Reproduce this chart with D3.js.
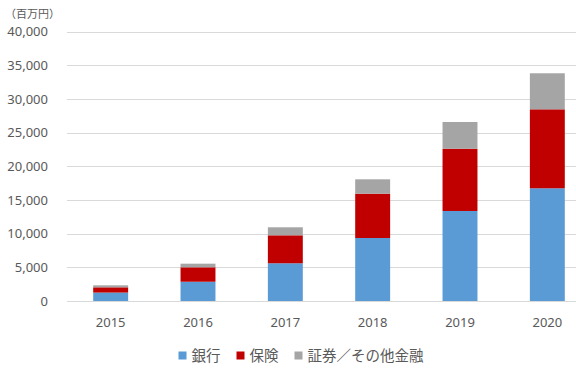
<!DOCTYPE html>
<html>
<head>
<meta charset="utf-8">
<script src="https://cdn.jsdelivr.net/npm/d3@7"></script>
<style>
  body { margin: 0; background: #fff; }
  text { font-family: "Noto Sans", "Noto Sans CJK JP", sans-serif; fill: #595959; }
</style>
</head>
<body>
<svg id="chart" width="576" height="370"></svg>
<script>
// data (百万円)
var years = ["2015", "2016", "2017", "2018", "2019", "2020"];
var bank = [1250, 2860, 5600, 9350, 13360, 16730];
var insurance = [780, 2140, 4150, 6580, 9240, 11720];
var securities = [300, 540, 1190, 2130, 3970, 5350];
var seriesNames = ["銀行", "保険", "証券／その他金融"];
var yTicks = [0, 5000, 10000, 15000, 20000, 25000, 30000, 35000, 40000];

var colors = ["#5B9BD5", "#C00000", "#A5A5A5"];

var svg = d3.select("#chart");

// plot area
var plotLeft = 67, plotRight = 591, plotTop = 31.5, plotBottom = 301;

var x = d3.scaleBand()
    .domain(years)
    .range([plotLeft, plotRight])
    .paddingInner(0.6)
    .paddingOuter(0.3);

var y = d3.scaleLinear()
    .domain([0, 40000])
    .range([plotBottom, plotTop]);

// build stack table
var rows = years.map(function(yr, i) {
    return { year: yr, bank: bank[i], insurance: insurance[i], securities: securities[i] };
});
var stack = d3.stack().keys(["bank", "insurance", "securities"]);
var layers = stack(rows);

// gridlines
svg.append("g")
    .selectAll("line")
    .data(yTicks)
    .enter()
    .append("line")
    .attr("x1", plotLeft)
    .attr("x2", 576)
    .attr("y1", function(d) { return Math.round(y(d)) + 0.5; })
    .attr("y2", function(d) { return Math.round(y(d)) + 0.5; })
    .attr("stroke", "#D9D9D9")
    .attr("stroke-width", 1);

// y axis labels
var yAxis = d3.axisLeft(y)
    .tickValues(yTicks)
    .tickSize(0)
    .tickPadding(0)
    .tickFormat(d3.format(","));

svg.append("g")
    .attr("transform", "translate(48,0)")
    .call(yAxis)
    .call(function(g) { g.select(".domain").remove(); })
    .selectAll("text")
    .attr("font-size", "13px")
    .attr("font-family", null)
    .attr("fill", "#595959");

// unit label
svg.append("text")
    .attr("x", 5)
    .attr("y", 18)
    .attr("font-size", "11px")
    .text("（百万円）");

// bars
svg.append("g")
    .selectAll("g")
    .data(layers)
    .enter()
    .append("g")
    .attr("fill", function(d, i) { return colors[i]; })
    .selectAll("rect")
    .data(function(d) { return d; })
    .enter()
    .append("rect")
    .attr("x", function(d) { return x(d.data.year); })
    .attr("width", x.bandwidth())
    .attr("y", function(d) { return y(d[1]); })
    .attr("height", function(d) { return y(d[0]) - y(d[1]); });

// x axis labels
var xAxis = d3.axisBottom(x)
    .tickSize(0)
    .tickPadding(0);

svg.append("g")
    .attr("transform", "translate(0," + plotBottom + ")")
    .call(xAxis)
    .call(function(g) { g.select(".domain").remove(); })
    .selectAll("text")
    .attr("font-size", "13px")
    .attr("font-family", null)
    .attr("fill", "#595959")
    .attr("dy", null)
    .attr("y", 25.5);

// legend
var legend = svg.append("g");
var lx = 178.5;
seriesNames.forEach(function(name, i) {
    legend.append("rect")
        .attr("x", lx)
        .attr("y", 351.5)
        .attr("width", 8)
        .attr("height", 8)
        .attr("fill", colors[i]);
    var t = legend.append("text")
        .attr("x", lx + 13)
        .attr("y", 360.5)
        .attr("font-size", "14.5px")
        .text(name);
    lx = lx + 13 + t.node().getComputedTextLength() + 16;
});
</script>
</body>
</html>
